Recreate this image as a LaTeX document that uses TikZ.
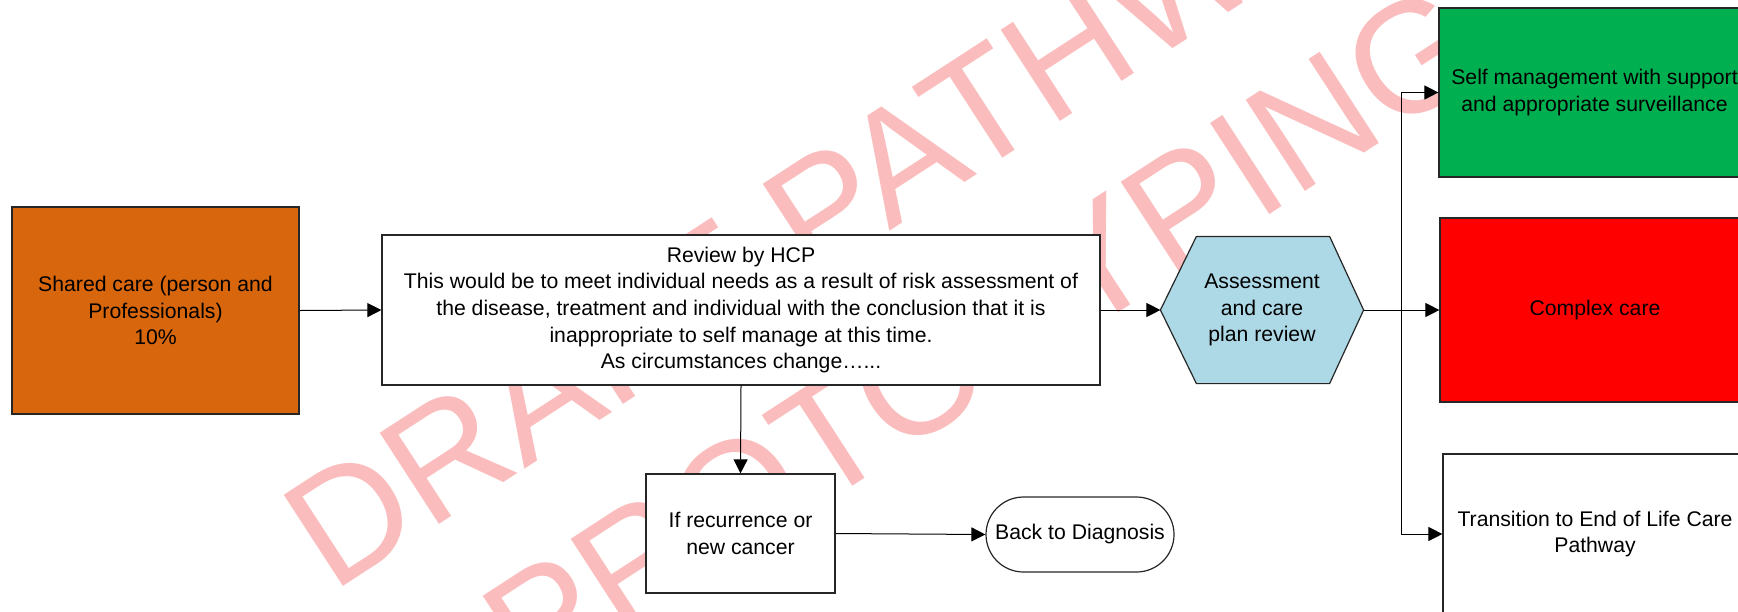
\documentclass[tikz,border=0pt]{standalone}
\usepackage{fontspec}
\setmainfont{Liberation Sans}
\usetikzlibrary{arrows.meta,shapes.misc}
\definecolor{orangec}{RGB}{216,102,12}
\definecolor{greenc}{RGB}{0,176,80}
\definecolor{redc}{RGB}{255,0,0}
\definecolor{hexc}{RGB}{173,216,230}
\definecolor{wmc}{RGB}{250,188,188}
\pgfdeclarelayer{wm}
\pgfdeclarelayer{bg}
\pgfsetlayers{wm,bg,main}
\begin{document}
\begin{tikzpicture}[x=0.5pt,y=-0.5pt,
  box/.style={draw=black!85, line width=0.6pt, fill=white, align=center, inner sep=0pt,
    font=\fontsize{10.6}{13.3}\selectfont},
  arr/.style={-{Triangle[length=7pt,width=7pt]}, line width=0.5pt, draw=black},
  wmtext/.style={text=wmc, font=\fontsize{79}{79}\selectfont, rotate=33, anchor=base west, inner sep=0pt}
]
\useasboundingbox (0,0) rectangle (1738,611);
\begin{pgfonlayer}{wm}
\clip (0,0) rectangle (1738,611);
\node[wmtext] (wm1) at (332.5,593.8) {DRAFT PATHWAY};
\node[wmtext] (wm2) at (530.8,694.8) {PROTOTYPING};
\end{pgfonlayer}
\begin{scope}
\clip (0,0) rectangle (1738,611);
\node[box, fill=orangec, minimum width=143.5pt, minimum height=103.5pt] (shared) at (155.5,310.5)
  {Shared care (person and\\Professionals)\\10\%};
\node[box, minimum width=359pt, minimum height=75pt] (review) at (741,310)
  {Review by HCP\\This would be to meet individual needs as a result of risk assessment of\\the disease, treatment and individual with the conclusion that it is\\inappropriate to self manage at this time.\\As circumstances change\dots...};
\node[box, draw=none, fill=none, minimum width=101pt, minimum height=73pt] (hex) at (1262,310)
  {Assessment\\and care\\plan review};
\node[box, fill=greenc, minimum width=155.5pt, minimum height=84.5pt] (green) at (1594.5,92.5)
  {Self management with support\\and appropriate surveillance};
\node[box, fill=redc, minimum width=155pt, minimum height=92pt] (red) at (1595,310)
  {Complex care};
\node[box, minimum width=152pt, minimum height=80pt] (white) at (1595,534)
  {Transition to End of Life Care\\Pathway};
\node[box, minimum width=94.5pt, minimum height=59.5pt] (rec) at (740.5,533.5)
  {If recurrence or\\new cancer};
\node[box, rounded rectangle, minimum width=94pt, minimum height=37.5pt] (back) at (1080,534.5)
  {Back to Diagnosis};
\end{scope}
\begin{pgfonlayer}{bg}
\filldraw[fill=hexc, draw=black!85, line width=0.6pt]
  (hex.west) -- ([xshift=18pt]hex.north west) -- ([xshift=-17pt]hex.north east) -- (hex.east)
  -- ([xshift=-17pt]hex.south east) -- ([xshift=18pt]hex.south west) -- cycle;
\end{pgfonlayer}
\coordinate (jn) at (1401,310);
\draw[arr] (shared.east) -- (review.west);
\draw[arr] (review.east) -- (hex.west);
\draw[arr] (hex.east) -- (red.west);
\draw[arr] (jn) |- (green.west);
\draw[arr] (jn) |- (white.west);
\draw[arr] (review.south) -- (rec.north);
\draw[arr] (rec.east) -- (back.west);
\end{tikzpicture}
\end{document}
